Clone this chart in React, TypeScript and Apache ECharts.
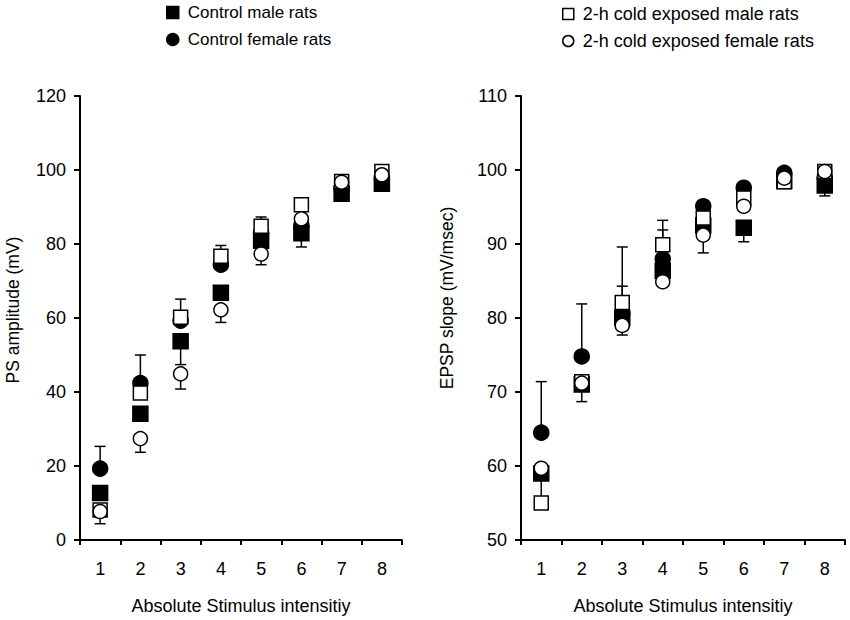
import { useEffect, useRef } from "react";
import * as echarts from "echarts";

// ---- data ----
const categories = ["1", "2", "3", "4", "5", "6", "7", "8"];
const seriesNames = [
  "Control male rats",
  "Control female rats",
  "2-h cold exposed male rats",
  "2-h cold exposed female rats",
];

// Left panel: PS amplitude (mV)
const psCtrlMale = [12.7, 34.1, 53.7, 66.8, 80.9, 82.9, 93.6, 96.3];
const psCtrlFemale = [19.3, 42.4, 59.3, 74.4, 83.0, 85.0, 95.0, 97.5];
const psColdMale = [8.1, 39.7, 60.2, 76.7, 84.8, 90.6, 96.9, 99.6];
const psColdFemale = [7.7, 27.4, 44.9, 62.2, 77.3, 86.8, 96.7, 98.7];
// one-sided SEM: positive = drawn upward, negative = drawn downward, 0 = none visible
const psCtrlMaleErr = [0, 0, -6.3, 0, 0, -3.7, 0, 0];
const psCtrlFemaleErr = [6.0, 7.6, 0, 0, 0, 0, 0, 0];
const psColdMaleErr = [0, 0, 4.9, 2.9, 2.5, 0, 0, 0];
const psColdFemaleErr = [-3.3, -3.7, -4.1, -3.4, -2.9, 0, 0, 0];

// Right panel: EPSP slope (mV/msec)
const epspCtrlMale = [59.0, 71.0, 80.0, 86.4, 92.5, 92.2, 98.5, 97.9];
const epspCtrlFemale = [64.5, 74.8, 80.6, 88.0, 95.1, 97.6, 99.6, 99.0];
const epspColdMale = [55.0, 71.4, 82.1, 89.9, 93.5, 96.2, 98.4, 99.8];
const epspColdFemale = [59.7, 71.2, 79.0, 84.9, 91.2, 95.1, 98.9, 99.8];
const epspCtrlMaleErr = [-3.5, 0, 0, 0, 0, -1.9, 0, -1.4];
const epspCtrlFemaleErr = [6.9, 7.1, 3.7, 3.9, 0, 0, 0, 0];
const epspColdMaleErr = [0, 0, 7.5, 3.3, 0, 0, 0, 0];
const epspColdFemaleErr = [0, -2.5, -1.3, 0, -2.4, 0, 0, 0];

const psAxis = { min: 0, max: 120, interval: 20, name: "PS amplitude (mV)" };
const epspAxis = { min: 50, max: 110, interval: 10, name: "EPSP slope (mV/msec)" };
const xAxisTitle = "Absolute Stimulus intensitiy";

// ---- styles ----
const FONT = '"Liberation Sans", Arial, Helvetica, sans-serif';
const markerStyles = [
  { symbol: "rect", color: "#000", size: 15, z: 3 },
  { symbol: "circle", color: "#000", size: 15, z: 2 },
  { symbol: "rect", color: "#fff", size: 14, z: 4 },
  { symbol: "circle", color: "#fff", size: 14, z: 5 },
];

function buildSeries(gridIdx: number, values: number[][], errs: number[][]) {
  const out: any[] = [];
  values.forEach((vals, s) => {
    const st = markerStyles[s];
    out.push({
      type: "scatter",
      name: seriesNames[s],
      xAxisIndex: gridIdx,
      yAxisIndex: gridIdx,
      symbol: st.symbol,
      symbolSize: st.size,
      z: st.z,
      itemStyle: { color: st.color, borderColor: "#000", borderWidth: 1.5, opacity: 1 },
      emphasis: { disabled: true },
      data: vals.map((v, i) => [categories[i], v]),
    });
    const errData = vals
      .map((v, i) => [i, v, errs[s][i]])
      .filter((d) => d[2] !== 0);
    out.push({
      type: "custom",
      name: "err-" + gridIdx + "-" + s,
      xAxisIndex: gridIdx,
      yAxisIndex: gridIdx,
      z: 1,
      silent: true,
      encode: { x: 0, y: 1 },
      data: errData,
      renderItem: (params: any, api: any) => {
        const x = api.value(0);
        const y = api.value(1);
        const e = api.value(2);
        const p0 = api.coord([x, y]);
        const p1 = api.coord([x, y + e]);
        const half = 5.5;
        const style = { stroke: "#000", lineWidth: 1.5, fill: "none" };
        return {
          type: "group",
          children: [
            { type: "line", shape: { x1: p0[0], y1: p0[1], x2: p1[0], y2: p1[1] }, style },
            { type: "line", shape: { x1: p1[0] - half, y1: p1[1], x2: p1[0] + half, y2: p1[1] }, style },
          ],
        };
      },
    });
  });
  return out;
}

function xAxis(gridIdx: number) {
  return {
    type: "category",
    gridIndex: gridIdx,
    data: categories,
    boundaryGap: true,
    name: xAxisTitle,
    nameLocation: "middle",
    nameGap: 57,
    nameTextStyle: { fontFamily: FONT, fontSize: 18, color: "#000" },
    axisLine: { show: true, onZero: false, lineStyle: { color: "#000", width: 2 } },
    axisTick: { show: true, length: 5, inside: false, lineStyle: { color: "#000", width: 2 } },
    axisLabel: { fontFamily: FONT, fontSize: 18, color: "#000", margin: 20 },
    splitLine: { show: false },
  };
}

function yAxis(gridIdx: number, ax: { min: number; max: number; interval: number }) {
  return {
    type: "value",
    gridIndex: gridIdx,
    min: ax.min,
    max: ax.max,
    interval: ax.interval,
    axisLine: { show: true, onZero: false, lineStyle: { color: "#000", width: 2 } },
    axisTick: { show: true, length: 6, inside: false, lineStyle: { color: "#000", width: 2 } },
    axisLabel: { fontFamily: FONT, fontSize: 18, color: "#000", margin: 14 },
    splitLine: { show: false },
  };
}

function legend(left: number, top: number, names: string[], fontSize: number, gap: number, icon: number) {
  return {
    orient: "vertical",
    left,
    top,
    padding: 0,
    itemWidth: icon,
    itemHeight: icon,
    itemGap: gap,
    selectedMode: false,
    data: names,
    itemStyle: { borderColor: "#000", borderWidth: 1.5 },
    textStyle: { fontFamily: FONT, fontSize, color: "#000", padding: [0, 0, 0, 4] },
  };
}

function yTitle(x: number, y: number, text: string) {
  return {
    type: "text",
    x,
    y,
    rotation: Math.PI / 2,
    style: {
      text,
      fontFamily: FONT,
      fontSize: 17.5,
      fill: "#000",
      align: "center",
      verticalAlign: "middle",
    },
  };
}

export default function App() {
  const ref = useRef<HTMLDivElement>(null);
  useEffect(() => {
    if (!ref.current) return;
    const chart = echarts.init(ref.current, undefined, { renderer: "svg" });
    const option: any = {
      animation: false,
      backgroundColor: "#fff",
      textStyle: { fontFamily: FONT },
      grid: [
        { left: 80, top: 96, width: 322, height: 445 },
        { left: 521, top: 96, width: 324, height: 445 },
      ],
      xAxis: [xAxis(0), xAxis(1)],
      yAxis: [yAxis(0, psAxis), yAxis(1, epspAxis)],
      legend: [
        legend(166, 4, seriesNames.slice(0, 2), 17, 10, 12),
        legend(562, 5, seriesNames.slice(2, 4), 18, 9, 11),
      ],
      graphic: [yTitle(13, 310, psAxis.name), yTitle(447, 298, epspAxis.name)],
      series: [
        ...buildSeries(
          0,
          [psCtrlMale, psCtrlFemale, psColdMale, psColdFemale],
          [psCtrlMaleErr, psCtrlFemaleErr, psColdMaleErr, psColdFemaleErr]
        ),
        ...buildSeries(
          1,
          [epspCtrlMale, epspCtrlFemale, epspColdMale, epspColdFemale],
          [epspCtrlMaleErr, epspCtrlFemaleErr, epspColdMaleErr, epspColdFemaleErr]
        ),
      ],
    };
    chart.setOption(option);
    return () => chart.dispose();
  }, []);
  return (
    <div
      ref={ref}
      style={{ position: "absolute", left: 0, top: 0, width: 850, height: 620, background: "#fff" }}
    />
  );
}
